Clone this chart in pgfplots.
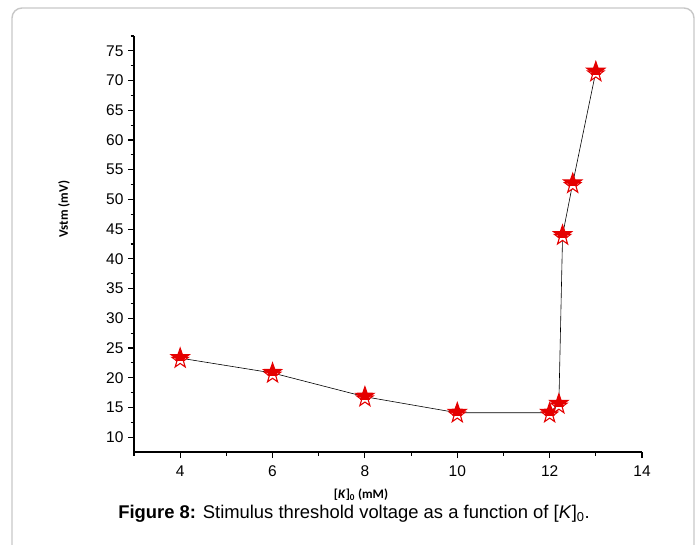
\documentclass[border=0pt]{standalone}
\usepackage{pgfplots}
\pgfplotsset{compat=1.18}
\usepackage{fontspec}
\setmainfont{Liberation Sans}
\newfontfamily\labfont{Carlito}

% five-pointed star path, outer radius #1, shifted down by #2
\newcommand\starpath[2]{%
  \pgfpathmoveto{\pgfpointadd{\pgfqpoint{0pt}{#2}}{\pgfpointpolar{90}{#1}}}
  \foreach \a/\r in {126/0.4,162/1,198/0.4,234/1,270/0.4,306/1,342/0.4,18/1,54/0.4}{%
    \pgfpathlineto{\pgfpointadd{\pgfqpoint{0pt}{#2}}{\pgfpointpolar{\a}{\r*#1}}}}
  \pgfpathclose}

% red star: solid upper part, hollow outlined lower part
\pgfdeclareplotmark{rstar}{%
  \pgfsetstrokecolor{red!90!black}\pgfsetfillcolor{white}
  \pgfsetlinewidth{1.1pt}
  \starpath{0.9\pgfplotmarksize}{-0.2\pgfplotmarksize}
  \pgfusepathqfillstroke
  \begin{pgfscope}
    \pgfpathrectangle{\pgfqpoint{-2\pgfplotmarksize}{-0.25\pgfplotmarksize}}{\pgfqpoint{4\pgfplotmarksize}{3\pgfplotmarksize}}
    \pgfusepath{clip}
    \pgfsetfillcolor{red!90!black}
    \starpath{\pgfplotmarksize}{0.05\pgfplotmarksize}
    \pgfusepathqfillstroke
  \end{pgfscope}
}

\begin{document}
\begin{tikzpicture}[x=1pt,y=1pt]
\clip (0,0) rectangle (699,-544);
\path[use as bounding box] (0,0) rectangle (699,-544);
\draw[line width=1.4pt, black!22, rounded corners=10pt] (12,-8) rectangle (694,-600);

\begin{axis}[
    at={(134pt,-452pt)}, anchor=south west,
    scale only axis, width=508pt, height=416pt,
    xmin=3, xmax=14, ymin=7.5, ymax=77.5,
    axis x line=bottom, axis y line=left,
    axis line style={-, line width=1.3pt},
    xtick={4,6,...,14}, minor xtick={3,5,...,13},
    ytick={10,15,...,75}, minor ytick={12.5,17.5,...,77.5},
    tick align=outside,
    major tick length=6pt, minor tick length=3.5pt,
    every tick/.style={black, line width=1.1pt},
    tick label style={font=\fontsize{15.5}{16}\selectfont},
    /pgf/number format/assume math mode=true,
    xticklabel style={yshift=-4pt},
    yticklabel style={xshift=-1pt},
    clip=false,
]
\addplot[black, line width=0.6pt, mark=rstar, mark size=9.5pt] coordinates {
  (4,23.3) (6,20.8) (8,16.8) (10,14.1) (12,14.1) (12.2,15.6)
  (12.28,44.0) (12.5,52.7) (13,71.5)
};
\end{axis}

\node[rotate=90, font=\labfont\bfseries\fontsize{13}{14}\selectfont] at (64,-209) {Vstm (mV)};
\node[font=\labfont\bfseries\fontsize{13}{14}\selectfont] at (361,-495) {[\textit{K}]\textsubscript{0} (mM)};
\node[font=\fontsize{18.4}{20}\selectfont] at (354,-514)
  {\textbf{Figure 8:} Stimulus threshold voltage as a function of [\textit{K}]\textsubscript{0}.};
\end{tikzpicture}
\end{document}
